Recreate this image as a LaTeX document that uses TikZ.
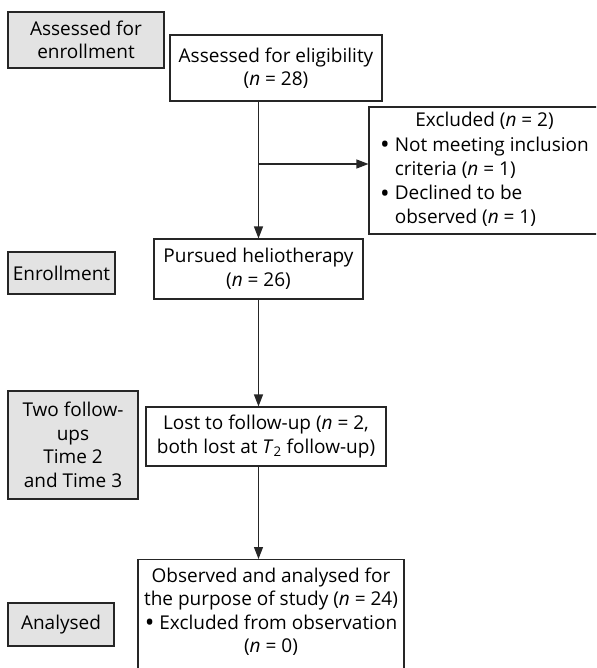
\documentclass[tikz,border=0pt]{standalone}
\usepackage{fontspec}
\setmainfont{Open Sans}
\usetikzlibrary{arrows.meta}
\definecolor{boxgray}{HTML}{E3E3E3}
\newcommand\mybul{\raisebox{-0.14em}{\scalebox{1.35}{•}}}
\tikzset{
  base/.style={draw=black!85, line width=1.1pt, inner sep=2pt, align=center,
    font=\fontsize{19}{23.5}\selectfont, text=black},
  graybox/.style={base, fill=boxgray},
  whitebox/.style={base, fill=white},
  conn/.style={line width=1.1pt, draw=black!85, -{Triangle[length=12pt,width=9pt]}},
}
\begin{document}
\begin{tikzpicture}[x=1pt,y=-1pt]
\useasboundingbox (0,0) rectangle (596,668);
\clip (0,0) rectangle (596,668);
\fill[white] (0,0) rectangle (596,668);

\node[graybox, minimum width=156pt, minimum height=56pt] (g1) at (86,40) {Assessed for\\enrollment};
\node[whitebox, minimum width=212pt, minimum height=66pt] (b1) at (276,68) {Assessed for eligibility\\(\textit{n} = 28)};
\node[whitebox, minimum width=231pt, minimum height=127pt] (ex) at (484.5,170.5)
  {\fontsize{19}{24.3}\selectfont\def\arraystretch{1}\begin{tabular}{@{}l@{}}
   \multicolumn{1}{@{}c@{}}{Excluded (\textit{n} = 2)}\\
   \mybul\ Not meeting inclusion\\
   \phantom{\mybul\ }criteria (\textit{n} = 1)\\
   \mybul\ Declined to be\\
   \phantom{\mybul\ }observed (\textit{n} = 1)
   \end{tabular}};
\node[graybox, minimum width=107pt, minimum height=42pt] (g2) at (61.5,273) {Enrollment};
\node[whitebox, minimum width=209pt, minimum height=60pt] (b2) at (258.5,269) {Pursued heliotherapy\\(\textit{n} = 26)};
\node[graybox, minimum width=130pt, minimum height=108pt] (g3) at (73,445) {Two follow-\\ups\\Time 2\\and Time 3};
\node[whitebox, minimum width=240pt, minimum height=59pt] (b3) at (266,436.5) {Lost to follow-up (\textit{n} = 2,\\both lost at \textit{T}\textsubscript{2} follow-up)};
\node[graybox, minimum width=106pt, minimum height=43pt] (g4) at (61,624.5) {Analysed};
\node[whitebox, minimum width=266pt, inner ysep=8pt, anchor=north] (b4) at (271,559)
  {Observed and analysed for\\the purpose of study (\textit{n} = 24)\\\mybul\ Excluded from observation\\(\textit{n} = 0)\rule[-30pt]{0pt}{30pt}};

\coordinate (br) at (258.5,164);
\draw[conn] (b2.north |- b1.south) -- (b2.north);
\draw[conn] (br) -- (br -| ex.west);
\draw[conn] (b2.south) -- (b2.south |- b3.north);
\draw[conn] (b2.south |- b3.south) -- (b2.south |- b4.north);
\end{tikzpicture}
\end{document}
